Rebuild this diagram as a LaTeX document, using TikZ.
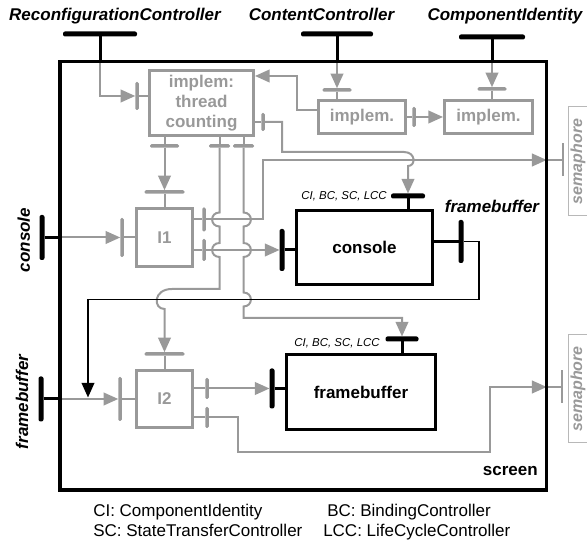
\documentclass[tikz,border=0pt]{standalone}
\usepackage{fontspec}
\setmainfont{Liberation Sans}
\usetikzlibrary{arrows.meta}
\definecolor{fgray}{rgb}{.6,.6,.6}
\definecolor{lgray}{rgb}{.72,.72,.72}
\newdimen\pxu
\pxu=0.75pt

\tikzset{
  comp/.style={draw, line width=2.25pt, inner sep=0pt, align=center, font=\fontsize{12.75}{15}\selectfont\bfseries},
  gcomp/.style={comp, draw=fgray, text=fgray},
  extlab/.style={inner sep=0pt, font=\fontsize{12.75}{15}\selectfont\bfseries\itshape},
  small/.style={inner sep=0pt, font=\fontsize{8.6}{10}\selectfont\itshape},
  legend/.style={inner sep=0pt, font=\fontsize{12.75}{15}\selectfont},
  semlab/.style={draw=lgray, line width=0.75pt, text=fgray, inner sep=0pt, font=\fontsize{12}{14}\selectfont\bfseries\itshape},
  hbk/.style={fill=black, inner sep=0pt, outer sep=0pt, minimum width=#1\pxu, minimum height=5\pxu, rounded corners=1.5pt},
  vbk/.style={fill=black, inner sep=0pt, outer sep=0pt, minimum height=#1\pxu, minimum width=5\pxu, rounded corners=1.5pt},
  hgy/.style={fill=fgray, inner sep=0pt, outer sep=0pt, minimum width=#1\pxu, minimum height=3.5\pxu, rounded corners=1pt},
  vgy/.style={fill=fgray, inner sep=0pt, outer sep=0pt, minimum height=#1\pxu, minimum width=3.5\pxu, rounded corners=1pt},
  vsem/.style={fill=fgray, inner sep=0pt, outer sep=0pt, minimum height=33\pxu, minimum width=2.5\pxu},
  stem/.style={draw=black, line width=2.25pt},
  wire/.style={draw=fgray, line width=1.5pt},
  wirea/.style={wire, -{Triangle[length=11pt,width=9.5pt]}},
  bwire/.style={draw=black, line width=1.4pt, -{Triangle[length=11pt,width=9.5pt]}},
  hopl/.style={out=180, in=180, looseness=1.8},
  hopr/.style={out=0, in=0, looseness=1.8},
}

\begin{document}
\begin{tikzpicture}[x=0.75pt,y=-0.75pt]
\useasboundingbox (0,0) rectangle (587,541);

% composite and its sub-components
\node[minimum width=486.7\pxu, minimum height=428.7\pxu, inner sep=0pt, outer sep=0pt] (screen) at (303.3,275.6) {};
\node[gcomp, minimum width=104\pxu, minimum height=65\pxu] (tc) at (201.5,103) {implem:\\thread\\counting};
\node[gcomp, minimum width=87\pxu, minimum height=33\pxu] (im1) at (362,117) {implem.};
\node[gcomp, minimum width=88\pxu, minimum height=33\pxu] (im2) at (488.5,117) {implem.};
\node[gcomp, minimum width=56\pxu, minimum height=58\pxu] (i1) at (164.5,237.5) {I1};
\node[gcomp, minimum width=56\pxu, minimum height=57\pxu] (i2) at (164.5,399) {I2};
\node[comp, minimum width=136\pxu, minimum height=74\pxu] (console) at (364.5,247.5) {console};
\node[comp, minimum width=149\pxu, minimum height=75\pxu] (fb) at (361,392) {framebuffer};

% interfaces of screen
\node[hbk=74] (rcb) at (100,34) {};
\node[hbk=72] (ccb) at (337,34) {};
\node[hbk=66] (cib) at (492,37) {};
\node[vbk=45] (conb) at (42,237.5) {};
\node[vbk=45] (fbb) at (41,399) {};
\node[vsem] (semt) at (563,160) {};
\node[vsem] (semb) at (562,387) {};
\draw[stem] (rcb) -- (rcb |- screen.north);
\draw[stem] (ccb) -- (ccb |- screen.north);
\draw[stem] (cib) -- (cib |- screen.north);
\draw[stem] (conb) -- (conb -| screen.west);
\draw[stem] (fbb) -- (fbb -| screen.west);
\draw[wire] (semt) -- (semt -| screen.east);
\draw[wire] (semb) -- (semb -| screen.east);

% interfaces of the sub-components
\node[vgy=28] (tcl) at (137,96) {};
\node[vgy=18] (tcr) at (263,122) {};
\node[hgy=29] (tcb1) at (164.5,146) {};
\node[hgy=21] (tcb2) at (219.5,146) {};
\node[hgy=21] (tcb3) at (243.5,146) {};
\node[hgy=29] (im1t) at (337,90) {};
\node[vgy=20] (im1r) at (414,117) {};
\node[hgy=29] (im2t) at (492,89) {};
\node[vgy=39] (i1l) at (122,237.5) {};
\node[hgy=40] (i1t) at (164.5,192) {};
\node[vgy=24] (i1ra) at (204,219.5) {};
\node[vgy=22] (i1rb) at (204,250) {};
\node[vgy=44] (i2l) at (120,399) {};
\node[hgy=40] (i2t) at (164.5,354) {};
\node[vgy=21] (i2ra) at (207,388.5) {};
\node[vgy=21] (i2rb) at (207,417.5) {};
\node[hbk=34] (cont) at (408,196) {};
\node[vbk=42] (conl) at (282,250) {};
\node[vbk=43] (conr) at (461,241.5) {};
\node[hbk=33] (fbt) at (402,339) {};
\node[vbk=40] (fbl) at (272,388.5) {};

\draw[wire] (tcl) -- (tcl -| tc.west);
\draw[wire] (tcr) -- (tcr -| tc.east);
\draw[wire] (tcb1) -- (tcb1 |- tc.south);
\draw[wire] (tcb2) -- (tcb2 |- tc.south);
\draw[wire] (tcb3) -- (tcb3 |- tc.south);
\draw[wire] (im1t) -- (im1t |- im1.north);
\draw[wire] (im1r) -- (im1r -| im1.east);
\draw[wire] (im2t) -- (im2t |- im2.north);
\draw[wire] (i1l) -- (i1l -| i1.west);
\draw[wire] (i1t) -- (i1t |- i1.north);
\draw[wire] (i1ra) -- (i1ra -| i1.east);
\draw[wire] (i1rb) -- (i1rb -| i1.east);
\draw[wire] (i2l) -- (i2l -| i2.west);
\draw[wire] (i2t) -- (i2t |- i2.north);
\draw[wire] (i2ra) -- (i2ra -| i2.east);
\draw[wire] (i2rb) -- (i2rb -| i2.east);
\draw[stem] (cont) -- (cont |- console.north);
\draw[stem] (conl) -- (conl -| console.west);
\draw[stem] (conr) -- (conr -| console.east);
\draw[stem] (fbt) -- (fbt |- fb.north);
\draw[stem] (fbl) -- (fbl -| fb.west);

% bindings
\draw[wirea] (rcb |- screen.north) |- (tcl.west);
\draw[wirea] (ccb |- screen.north) -- (im1t.north);
\draw[wirea] (cib |- screen.north) -- (im2t.north);
\draw[wirea] (im1r) -- (im2.west);
\draw[wirea] ([yshift=7\pxu]im1.west) -- ++(-20,0) |- ([yshift=27\pxu]tc.east);
\draw[wirea] (tcr) -- ++(19,0) |- (404,152) .. controls (416,152) and (416,166) .. (408,166) -- (cont.north);
\draw[wirea] (i1ra) -| (263,160) -- (semt -| screen.east);
\draw[wirea] (i1rb) -- (conl.west);
\draw[wirea] (conb -| screen.west) -- (i1l.west);
\draw[wirea] (fbb -| screen.west) -- (i2l.west);
\draw[wirea] (tcb1) -- (i1t.north);
\draw[wirea] (tcb2) -- (219.5,212.5) to[hopl] (219.5,226.5) -- (219.5,243) to[hopl] (219.5,257)
  -- (219.5,289) -- (172,289) .. controls (153,289) and (153,309) .. (164.5,309) -- (i2t.north);
\draw[wirea] (tcb3) -- (243.5,212.5) to[hopr] (243.5,226.5) -- (243.5,243) to[hopr] (243.5,257)
  -- (243.5,292.5) to[hopr] (243.5,306.5) -- (243.5,318) -| (fbt.north);
\draw[wirea] (i2ra) -- (fbl.west);
\draw[wirea] (i2rb) -| (238,452) -| (490,387) -- (semb -| screen.east);
\draw[bwire] (conr) -- ++(18,0) |- (88,299.5) -- (88,397.5);

% labels
\node[extlab, anchor=base] at (115,21) {ReconfigurationController};
\node[extlab, anchor=base] at (321.5,21) {ContentController};
\node[extlab, anchor=base] at (505,21) {ComponentIdentity};
\node[extlab, rotate=90, anchor=base] at (30,240) {console};
\node[extlab, rotate=90, anchor=base] at (28,402) {framebuffer};
\node[extlab, anchor=base] at (492,213) {framebuffer};
\node[small, anchor=base east] at (387,200) {CI, BC, SC, LCC};
\node[small, anchor=base east] at (380,346.5) {CI, BC, SC, LCC};
\node[semlab, rotate=90, minimum width=109\pxu, minimum height=19\pxu] (semla) at (578,161.5) {semaphore};
\node[semlab, rotate=90, minimum width=108\pxu, minimum height=19\pxu] (semlb) at (578,389) {semaphore};
\node[extlab, font=\fontsize{12.75}{15}\selectfont\bfseries, anchor=base east] at (538,476) {screen};

\node[legend, anchor=base west] at (93,517) {CI: ComponentIdentity};
\node[legend, anchor=base west] at (93,537) {SC: StateTransferController};
\node[legend, anchor=base west] at (327,517) {BC: BindingController};
\node[legend, anchor=base west] at (323,537) {LCC: LifeCycleController};

% border of screen on top
\draw[line width=2.5pt] (screen.north west) rectangle (screen.south east);
\end{tikzpicture}
\end{document}
